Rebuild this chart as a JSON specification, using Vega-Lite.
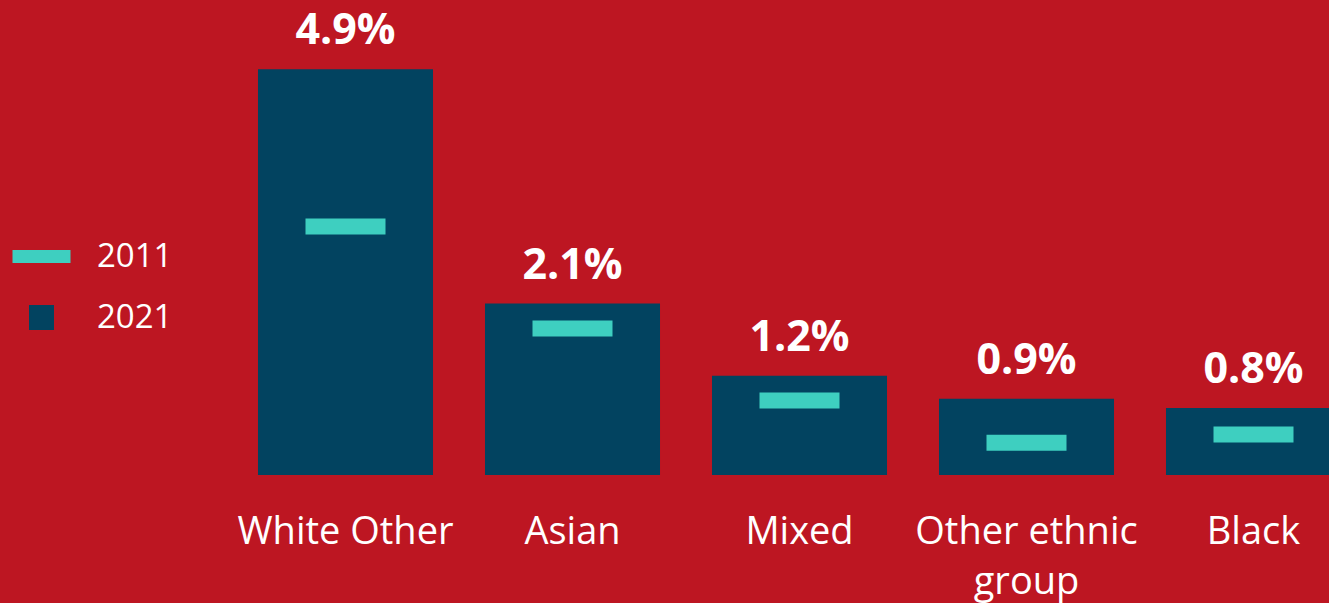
{
  "$schema": "https://vega.github.io/schema/vega-lite/v6.json",
  "width": 1135,
  "height": 475,
  "autosize": {"type": "none"},
  "padding": {"left": 232, "top": 0, "right": 0, "bottom": 128},
  "background": "#BD1622",
  "config": {"view": {"stroke": null}},
  "data": {
    "values": [
      {"group": "White Other", "year": "2021", "value": 0.049},
      {"group": "Asian", "year": "2021", "value": 0.0207},
      {"group": "Mixed", "year": "2021", "value": 0.012},
      {"group": "Other ethnic group", "year": "2021", "value": 0.0092},
      {"group": "Black", "year": "2021", "value": 0.0081},
      {"group": "White Other", "year": "2011", "value": 0.030},
      {"group": "Asian", "year": "2011", "value": 0.0177},
      {"group": "Mixed", "year": "2011", "value": 0.009},
      {"group": "Other ethnic group", "year": "2011", "value": 0.0039},
      {"group": "Black", "year": "2011", "value": 0.0049}
    ]
  },
  "encoding": {
    "x": {
      "field": "group",
      "type": "nominal",
      "sort": ["White Other", "Asian", "Mixed", "Other ethnic group", "Black"],
      "scale": {"paddingInner": 0.229, "paddingOuter": 0.1145},
      "axis": {
        "title": null,
        "domain": false,
        "ticks": false,
        "grid": false,
        "labelAngle": 0,
        "labelFont": "Open Sans",
        "labelFontSize": 38,
        "labelColor": "white",
        "labelPadding": 38,
        "labelLimit": 400,
        "labelOverlap": false,
        "labelLineHeight": 50,
        "labelExpr": "datum.label == 'Other ethnic group' ? ['Other ethnic', 'group'] : datum.label"
      }
    },
    "y": {
      "field": "value",
      "type": "quantitative",
      "scale": {"domain": [0, 0.05736], "nice": false, "zero": true},
      "axis": null
    }
  },
  "layer": [
    {
      "transform": [{"filter": "datum.year == '2021'"}],
      "mark": {"type": "bar", "opacity": 1},
      "encoding": {
        "color": {
          "field": "year",
          "type": "nominal",
          "scale": {"domain": ["2011", "2021"], "range": ["#3ECFC0", "#024360"]},
          "legend": {
            "orient": "none",
            "legendX": -207,
            "legendY": 240,
            "title": null,
            "padding": 0,
            "symbolSize": 625,
            "symbolStrokeWidth": 0,
            "symbolOpacity": 1,
            "labelFont": "Open Sans",
            "labelFontSize": 33,
            "labelColor": "white",
            "labelOffset": 39,
            "rowPadding": 27,
            "encode": {
              "symbols": {
                "update": {
                  "shape": {"signal": "datum.value === '2011' ? 'M-2.32,-0.52H2.32V0.52H-2.32Z' : 'square'"},
                  "fill": {"signal": "datum.value === '2011' ? '#3ECFC0' : '#024360'"},
                  "opacity": {"value": 1}
                }
              }
            }
          }
        }
      }
    },
    {
      "transform": [{"filter": "datum.year == '2011'"}],
      "mark": {"type": "tick", "size": 80, "thickness": 16, "opacity": 1},
      "encoding": {
        "color": {"field": "year", "type": "nominal"}
      }
    },
    {
      "transform": [{"filter": "datum.year == '2021'"}],
      "mark": {
        "type": "text",
        "baseline": "alphabetic",
        "dy": -25,
        "font": "Open Sans",
        "fontWeight": "bold",
        "fontSize": 43,
        "color": "white"
      },
      "encoding": {
        "text": {"field": "value", "type": "quantitative", "format": ".1%"}
      }
    }
  ]
}
